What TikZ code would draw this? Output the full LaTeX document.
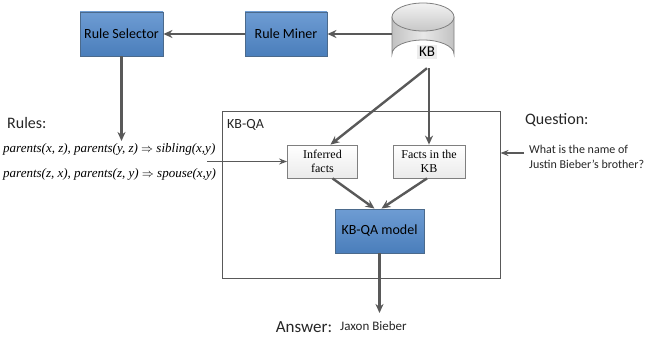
\documentclass[tikz,border=0pt]{standalone}
\usepackage{fontspec}
\setmainfont{Carlito}
\newfontfamily\timesfont{Liberation Serif}
\usetikzlibrary{arrows.meta,calc}
\definecolor{arrowgray}{HTML}{595959}
\definecolor{boxblueT}{HTML}{6E9CD3}
\definecolor{boxblueB}{HTML}{4A7EBB}
\definecolor{boxblueD}{HTML}{4B6A8C}
\definecolor{factgray}{HTML}{7F7F7F}
\tikzset{
  bluebox/.style={draw=boxblueD, line width=0.9pt, top color=boxblueT, bottom color=boxblueB,
    minimum height=44pt, inner sep=2pt, font=\fontsize{14}{16}\selectfont},
  factbox/.style={draw=factgray, line width=0.8pt, top color=white, bottom color=black!8,
    minimum width=70pt, minimum height=33pt, inner sep=1pt, align=center,
    font=\timesfont\fontsize{12}{14}\selectfont},
  link/.style={draw=arrowgray, line width=2.4pt, -{Stealth[length=9pt,width=8pt]}},
  bigtext/.style={font=\fontsize{16}{18}\selectfont, text=black!85},
  smalltext/.style={font=\fontsize{12}{14.5}\selectfont, text=black!85},
  ruletext/.style={font=\timesfont\itshape\fontsize{13}{15}\selectfont, inner sep=0pt},
}
\begin{document}
\begin{tikzpicture}[x=1pt,y=-1pt]
\useasboundingbox (0,0) rectangle (649,337);

% KB-QA container
\node (qa) [draw=arrowgray, line width=0.9pt, minimum width=278pt, minimum height=167pt, inner sep=0pt] at (361,194.5) {};
\node [font=\fontsize{14}{16}\selectfont, text=black!85, anchor=west, inner sep=0pt] at (227,125) {KB-QA};

% top row
\node (sel) [bluebox, minimum width=83pt] at (121.5,34) {Rule Selector};
\node (miner) [bluebox, minimum width=82pt] at (286,34) {Rule Miner};

% knowledge base drawn as a cylinder
\path[left color=black!24, right color=black!24, middle color=black!9, draw=factgray, line width=0.8pt]
  (392,17) -- (392,54) arc[start angle=180, end angle=360, x radius=31, y radius=14] -- (454,17) -- cycle;
\path[top color=black!5, bottom color=black!22, draw=factgray, line width=0.8pt]
  (423,17) ellipse[x radius=31, y radius=14];
\node (kb) [minimum width=62pt, minimum height=66pt, inner sep=0pt] at (423,35) {};
\node [fill=black!7, font=\fontsize{15}{17}\selectfont, inner sep=2.5pt] at (427,52) {KB};

% facts and model
\node (inf) [factbox] at (322.5,161.5) {Inferred\\facts};
\node (facts) [factbox, minimum width=72pt] at (429,161.5) {Facts in the\\KB};
\node (model) [bluebox, minimum width=89pt] at (379.5,231) {KB-QA model};

% rules
\node [bigtext, anchor=west, inner sep=0pt] at (7,123) {Rules:};
\node (r1) [ruletext, anchor=west] at (3,149) {parents(x, z), parents(y, z) $\Rightarrow$ sibling(x,y)};
\node (r2) [ruletext, anchor=west] at (3,174) {parents(z, x), parents(z, y) $\Rightarrow$ spouse(x,y)};

% question
\node [bigtext, anchor=west, inner sep=0pt] at (525,120) {Question:};
\node (q) [smalltext, anchor=west, align=left, inner sep=0pt] at (529,157) {What is the name of\\Justin Bieber's brother?};

% answer
\node (ans) [bigtext, font=\fontsize{17}{19}\selectfont, inner sep=0pt] at (304,327) {Answer:};
\node (jb) [smalltext, font=\fontsize{13}{15}\selectfont, anchor=west, inner sep=0pt] at (340,326) {Jaxon Bieber};

% connectors
\coordinate (rin) at (207,161.5);
\coordinate (qin) at (524,153);
\coordinate (aout) at (380,313);
\draw[link] (kb.west |- miner.east) -- (miner.east);
\draw[link] (miner.west) -- (sel.east);
\draw[link] (sel.south) -- (sel.south |- 0,141);
\draw[link] ([xshift=4pt]kb.south) -- ([xshift=8pt]inf.north);
\draw[link] (facts.north |- kb.south) -- (facts.north);
\draw[link, line width=1.3pt, -{Stealth[length=8pt,width=6pt]}] (rin) -- (inf.west);
\draw[link, line width=1.3pt, -{Stealth[length=8pt,width=6pt]}] (qin) -- (qin -| qa.east);
\draw[link] ([xshift=10pt]inf.south) -- ([xshift=-5pt]model.north);
\draw[link] ([xshift=-2pt]facts.south) -- ([xshift=2pt]model.north);
\draw[link] (model.south) -- (model.south |- aout);
\end{tikzpicture}
\end{document}
